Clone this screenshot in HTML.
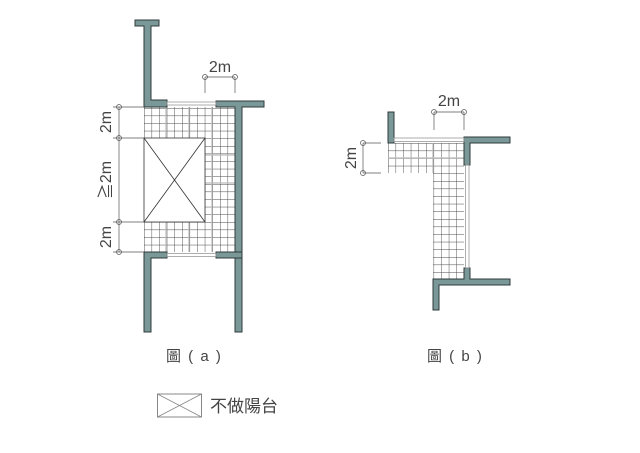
<!DOCTYPE html>
<html><head><meta charset="utf-8"><style>
html,body{margin:0;padding:0;background:#fff;}
svg{display:block;}
text{font-family:"Liberation Sans","Noto Sans CJK TC",sans-serif;fill:#444;}
</style></head><body>
<svg width="640" height="453" viewBox="0 0 640 453" xmlns="http://www.w3.org/2000/svg">
<defs>
<pattern id="g" x="144" y="108" width="7.6" height="7.6" patternUnits="userSpaceOnUse">
<path d="M0 0V7.6M0 0H7.6" stroke="#444" stroke-width="0.9" fill="none"/>
</pattern>
<pattern id="g2" x="388" y="143" width="7.6" height="7.6" patternUnits="userSpaceOnUse">
<path d="M0 0V7.6M0 0H7.6" stroke="#444" stroke-width="0.9" fill="none"/>
</pattern>
</defs>
<rect x="144" y="107" width="91" height="145" fill="url(#g)"/>
<g stroke="#bbb" stroke-width="1.2">
<line x1="166" y1="107" x2="166" y2="138"/><line x1="189" y1="107" x2="189" y2="138"/>
<line x1="166" y1="222" x2="166" y2="252"/><line x1="189" y1="222" x2="189" y2="252"/>
<line x1="212" y1="107" x2="212" y2="252"/>
<line x1="205" y1="183" x2="235" y2="183"/><line x1="205" y1="155" x2="235" y2="155"/>
</g>
<rect x="144" y="138" width="61" height="84" fill="#fff" stroke="#333" stroke-width="0.8"/>
<path d="M144 138L205 222M205 138L144 222" stroke="#333" stroke-width="0.8"/>
<g fill="#7a9898" stroke="#2f3a3a" stroke-width="1">
<path d="M135 20H159V26H151V100H167V107H144V26H135Z"/>
<path d="M216 101H264V107H242V332H235V107H216Z"/>
<path d="M144 252H167V258H151V332H144Z"/>
<path d="M216 252H242V258H216Z"/>
</g>
<g stroke="#999" stroke-width="0.8" fill="none">
<rect x="167" y="102" width="49" height="3"/>
<rect x="167" y="253.5" width="49" height="3"/>
</g>
<g stroke="#555" stroke-width="0.7" fill="none">
<line x1="119" y1="107" x2="119" y2="252"/>
<line x1="113" y1="107" x2="144" y2="107"/><line x1="113" y1="138" x2="144" y2="138"/>
<line x1="113" y1="222" x2="144" y2="222"/><line x1="113" y1="252" x2="144" y2="252"/>
<circle cx="119" cy="107" r="2.5"/><circle cx="119" cy="138" r="2.5"/>
<circle cx="119" cy="222" r="2.5"/><circle cx="119" cy="252" r="2.5"/>
<line x1="205" y1="77" x2="235" y2="77"/>
<line x1="205" y1="77" x2="205" y2="93"/><line x1="235" y1="77" x2="235" y2="93"/>
<circle cx="205" cy="77" r="2.5"/><circle cx="235" cy="77" r="2.5"/>
</g>
<text x="220" y="72" font-size="16" text-anchor="middle">2m</text>
<text transform="translate(111,122) rotate(-90)" font-size="16" text-anchor="middle">2m</text>
<text transform="translate(111,180) rotate(-90)" font-size="16" text-anchor="middle">≧2m</text>
<text transform="translate(111,237) rotate(-90)" font-size="16" text-anchor="middle">2m</text>
<rect x="388" y="143" width="76" height="30" fill="url(#g2)"/>
<rect x="433" y="173" width="31" height="106" fill="url(#g2)"/>
<g stroke="#bbb" stroke-width="1.2">
<line x1="433" y1="143" x2="433" y2="173"/><line x1="388" y1="158" x2="464" y2="158"/>
</g>
<g fill="#7a9898" stroke="#2f3a3a" stroke-width="1">
<rect x="388" y="112" width="6" height="31"/>
<path d="M464 137H510V143H470V165H464Z"/>
<path d="M464 268H470V279H510V285H439V310H433V279H464Z"/>
</g>
<g stroke="#999" stroke-width="0.8" fill="none">
<rect x="394" y="138" width="70" height="3.5"/>
<rect x="465.5" y="165" width="3.5" height="103"/>
</g>
<g stroke="#555" stroke-width="0.7" fill="none">
<line x1="434" y1="112" x2="464" y2="112"/>
<line x1="434" y1="112" x2="434" y2="130"/><line x1="464" y1="112" x2="464" y2="130"/>
<circle cx="434" cy="112" r="2.5"/><circle cx="464" cy="112" r="2.5"/>
<line x1="363" y1="143" x2="363" y2="173"/>
<line x1="363" y1="143" x2="381" y2="143"/><line x1="363" y1="173" x2="381" y2="173"/>
<circle cx="363" cy="143" r="2.5"/><circle cx="363" cy="173" r="2.5"/>
</g>
<text x="449" y="106" font-size="16" text-anchor="middle">2m</text>
<text transform="translate(356,158) rotate(-90)" font-size="16" text-anchor="middle">2m</text>
<text x="166" y="361" font-size="15" letter-spacing="1.5" xml:space="preserve">圖 ( a )</text>
<text x="427" y="361" font-size="15" letter-spacing="1.5" xml:space="preserve">圖 ( b )</text>
<rect x="157.5" y="394" width="44" height="23" fill="#fff" stroke="#888" stroke-width="1"/>
<path d="M157.5 394L201.5 417M201.5 394L157.5 417" stroke="#888" stroke-width="0.8"/>
<text x="210" y="412" font-size="17">不做陽台</text>
</svg>
</body></html>
